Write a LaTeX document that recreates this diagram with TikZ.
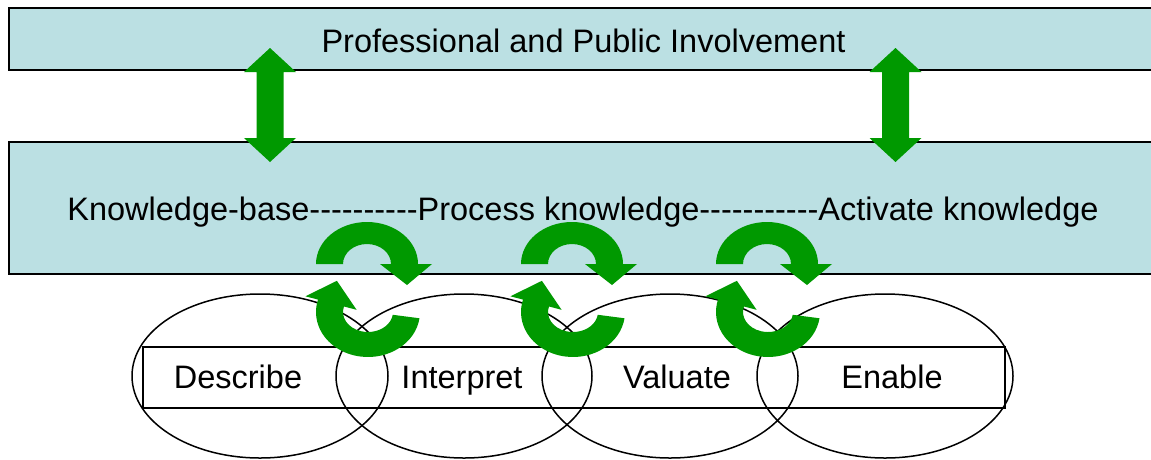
\documentclass[tikz,border=0pt]{standalone}
\usepackage{fontspec}
\setmainfont{Liberation Sans}[Ligatures=TeXOff]
\definecolor{boxfill}{RGB}{187,224,227}
\definecolor{arrowgreen}{RGB}{0,153,0}
\tikzset{
  bandbox/.style={draw=black, line width=1.8pt, fill=boxfill, anchor=north west, inner sep=0pt},
  lbl/.style={anchor=base, inner sep=0pt, font=\fontsize{32.5}{38}\selectfont},
  stage/.style={draw=black, line width=1.5pt},
  dblarrow/.pic={
    \fill[arrowgreen] (0,0) -- (26,24) -- (13.5,24) -- (13.5,90) -- (26,90) -- (0,114)
      -- (-26,90) -- (-13.5,90) -- (-13.5,24) -- (-26,24) -- cycle;
  },
  cycpair/.pic={
    \fill[arrowgreen] (-51,0) arc[start angle=180, end angle=360, x radius=51, y radius=42]
      -- (65,0) -- (40,21) -- (13,0) -- (24,0)
      arc[start angle=360, end angle=180, x radius=24, y radius=20] -- cycle;
    \begin{scope}[shift={(1,48)}]
      \fill[arrowgreen] (51.49,6.26) arc[start angle=8, end angle=196, x radius=52, y radius=45]
        -- (-62.6,-15.7) -- (-31.1,-31.2) -- (-11.4,-2.2) -- (-24.03,-5.51)
        arc[start angle=196, end angle=8, x radius=25, y radius=20] -- cycle;
    \end{scope}
  }
}
\begin{document}
\begin{tikzpicture}[x=1pt, y=-1pt]
\useasboundingbox (0,0) rectangle (1151,459);
\clip (0,0) rectangle (1151,459);
\fill[white] (0,0) rectangle (1151,459);
% bands
\node[bandbox, minimum width=1160pt, minimum height=62pt] (topbox) at (8,7) {};
\node[bandbox, minimum width=1160pt, minimum height=132pt] (midbox) at (8,141) {};
\node[lbl] (involve) at (583.5,52) {Professional and Public Involvement};
\node[lbl] (chain) at (583,220) {Knowledge-base----------Process knowledge-----------Activate knowledge};
% stages
\node[stage, anchor=north west, minimum width=862pt, minimum height=61pt, inner sep=0pt] (strip) at (142,346) {};
\draw[stage] (260,376) ellipse[x radius=128, y radius=82];
\draw[stage] (464,376) ellipse[x radius=128, y radius=82];
\draw[stage] (670,376) ellipse[x radius=128, y radius=82];
\draw[stage] (885,376) ellipse[x radius=128, y radius=82];
\node[lbl] (describe) at (238,388) {Describe};
\node[lbl] (interpret) at (462,388) {Interpret};
\node[lbl] (valuate) at (677,388) {Valuate};
\node[lbl] (enable) at (892,388) {Enable};
% arrows
\pic at (270,48) {dblarrow};
\pic at (895.5,48) {dblarrow};
\pic at (367,264) {cycpair};
\pic at (572,264) {cycpair};
\pic at (767,264) {cycpair};
\end{tikzpicture}
\end{document}
